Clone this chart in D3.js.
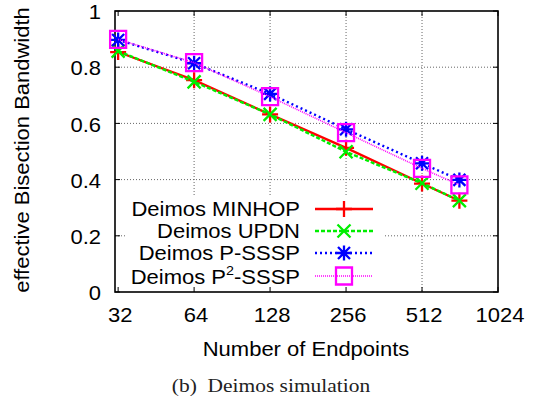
<!DOCTYPE html>
<html>
<head>
<meta charset="utf-8">
<script src="https://cdn.jsdelivr.net/npm/d3@7"></script>
<style>
  body { margin: 0; background: #fff; }
  text { font-family: "Liberation Sans", Arial, Helvetica, sans-serif; fill: #000; }
</style>
</head>
<body>
<div id="chart"></div>
<script>
// data
const endpoints = [32, 64, 128, 256, 512, 720];
const minhop = [0.854, 0.754, 0.632, 0.513, 0.386, 0.325];
const updn = [0.857, 0.748, 0.632, 0.499, 0.387, 0.325];
const psssp = [0.897, 0.814, 0.705, 0.579, 0.458, 0.399];
const p2sssp = [0.899, 0.816, 0.695, 0.567, 0.440, 0.381];
const xTicks = [32, 64, 128, 256, 512, 1024];
const yTicks = [0, 0.2, 0.4, 0.6, 0.8, 1];

const W = 535, H = 398;
const plotL = 115, plotR = 498, plotT = 11, plotB = 292;
const SX = 1.1; // the picture is a bit wider than tall
const FS = 20;

const svg = d3.select("#chart").append("svg")
    .attr("width", W)
    .attr("height", H);

const x = d3.scaleLog().base(2).domain([31.1, 1024]).range([plotL, plotR]);
const y = d3.scaleLinear().domain([0, 1]).range([plotB, plotT]);

function label(x0, y0, txt, anchor, size, rot) {
    let t = svg.append("text")
        .attr("transform", "translate(" + x0 + "," + y0 + ")" + (rot ? " rotate(" + rot + ")" : "") + " scale(" + SX + ",1)")
        .attr("text-anchor", anchor)
        .attr("dominant-baseline", "central")
        .style("font-size", size + "px");
    return t.text(txt);
}

// grid
svg.selectAll("line.gx")
    .data(xTicks.slice(1, -1))
    .enter()
    .append("line")
    .attr("x1", d => x(d)).attr("x2", d => x(d))
    .attr("y1", plotT).attr("y2", plotB)
    .attr("stroke", "#666").attr("stroke-width", 1).attr("stroke-dasharray", "1,2");

svg.selectAll("line.gy")
    .data(yTicks.slice(1, -1))
    .enter()
    .append("line")
    .attr("x1", plotL).attr("x2", plotR)
    .attr("y1", d => y(d)).attr("y2", d => y(d))
    .attr("stroke", "#666").attr("stroke-width", 1).attr("stroke-dasharray", "1,2");

// opaque key box
svg.append("rect")
    .attr("x", 127).attr("y", 197)
    .attr("width", 258).attr("height", plotB - 197)
    .attr("fill", "#fff");

// ticks on all sides
xTicks.forEach(d => {
    svg.append("line").attr("x1", x(d)).attr("x2", x(d)).attr("y1", plotB).attr("y2", plotB - 5).attr("stroke", "#000");
    svg.append("line").attr("x1", x(d)).attr("x2", x(d)).attr("y1", plotT).attr("y2", plotT + 5).attr("stroke", "#000");
    label(x(d) + 2, 315, d, "middle", FS);
});
yTicks.forEach(d => {
    svg.append("line").attr("x1", plotL).attr("x2", plotL + 5).attr("y1", y(d)).attr("y2", y(d)).attr("stroke", "#000");
    svg.append("line").attr("x1", plotR).attr("x2", plotR - 5).attr("y1", y(d)).attr("y2", y(d)).attr("stroke", "#000");
    label(101, y(d) + 1, d, "end", FS);
});

// border
svg.append("rect")
    .attr("x", plotL).attr("y", plotT)
    .attr("width", plotR - plotL).attr("height", plotB - plotT)
    .attr("fill", "none").attr("stroke", "#000").attr("stroke-width", 1.6);

// markers
function marker(g, kind, cx, cy, color) {
    let p;
    if (kind === "plus") {
        p = `M${cx - 8},${cy}H${cx + 8}M${cx},${cy - 8}V${cy + 8}`;
    } else if (kind === "cross") {
        p = `M${cx - 6.5},${cy - 6.5}L${cx + 6.5},${cy + 6.5}M${cx - 6.5},${cy + 6.5}L${cx + 6.5},${cy - 6.5}`;
    } else if (kind === "star") {
        p = `M${cx - 7.5},${cy}H${cx + 7.5}M${cx},${cy - 7.5}V${cy + 7.5}` +
            `M${cx - 6},${cy - 6}L${cx + 6},${cy + 6}M${cx - 6},${cy + 6}L${cx + 6},${cy - 6}`;
    } else {
        p = `M${cx - 8},${cy - 8.5}H${cx + 8}V${cy + 8.5}H${cx - 8}Z`;
    }
    g.append("path").attr("d", p)
        .attr("fill", "none").attr("stroke", color).attr("stroke-width", 2.3);
}

const series = [
    { name: "Deimos MINHOP", values: minhop, color: "#ff0000", dash: null, width: 2.3, kind: "plus" },
    { name: "Deimos UPDN", values: updn, color: "#00ee00", dash: "4,2", width: 2.4, kind: "cross" },
    { name: "Deimos P-SSSP", values: psssp, color: "#0000ff", dash: "2,3", width: 2.4, kind: "star" },
    { name: "Deimos P2-SSSP", values: p2sssp, color: "#ff00ff", dash: "1,1", width: 1.6, kind: "square" }
];

const line = d3.line()
    .x(d => x(d[0]))
    .y(d => y(d[1]));

const keyY = [209, 231, 253, 276];

series.forEach((s, i) => {
    const g = svg.append("g");
    const pts = endpoints.map((e, j) => [e, s.values[j]]);
    g.append("path")
        .attr("d", line(pts))
        .attr("fill", "none")
        .attr("stroke", s.color)
        .attr("stroke-width", s.width)
        .attr("stroke-dasharray", s.dash);
    pts.forEach(p => marker(g, s.kind, x(p[0]), y(p[1]), s.color));

    // key entry
    g.append("line")
        .attr("x1", 315).attr("x2", 373)
        .attr("y1", keyY[i]).attr("y2", keyY[i])
        .attr("stroke", s.color)
        .attr("stroke-width", s.width)
        .attr("stroke-dasharray", s.dash);
    marker(g, s.kind, 344, keyY[i], s.color);
});

// key labels
label(300, keyY[0], "Deimos MINHOP", "end", FS);
label(300, keyY[1], "Deimos UPDN", "end", FS);
label(300, keyY[2], "Deimos P-SSSP", "end", FS);
const k4 = label(300, keyY[3], "", "end", FS);
k4.append("tspan").text("Deimos P");
k4.append("tspan").attr("dy", -6).style("font-size", "13px").text("2");
k4.append("tspan").attr("dy", 6).text("-SSSP");

// axis titles
label(306, 349, "Number of Endpoints", "middle", FS);
label(22, 150, "effective Bisection Bandwidth", "middle", FS, -90);

// caption
svg.append("text")
    .attr("transform", "translate(271,385) scale(" + SX + ",1)")
    .attr("text-anchor", "middle")
    .attr("dominant-baseline", "central")
    .style("font-family", "'Liberation Serif', 'Times New Roman', serif")
    .style("font-size", "19.5px")
    .style("fill", "#222")
    .text("(b)\u2002Deimos simulation");
</script>
</body>
</html>
